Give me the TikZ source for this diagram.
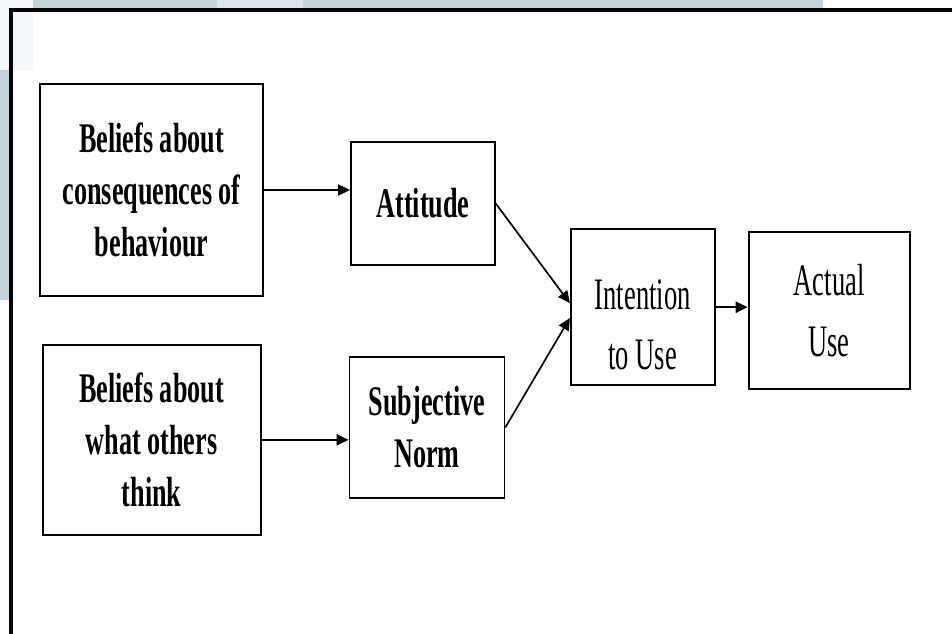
\documentclass[tikz,border=0pt]{standalone}
\usepackage{fontspec}
\setmainfont{Liberation Serif}
\newfontfamily\condfont[FakeStretch=0.62]{Liberation Serif}
\newfontfamily\thinfont[FakeStretch=0.59]{Liberation Serif}
\usetikzlibrary{positioning,arrows.meta,calc}

\definecolor{stripblue}{HTML}{C0D4DA}
\definecolor{stripfaint}{HTML}{DCE6EA}
\definecolor{stripwhite}{HTML}{F3F7F9}

\begin{document}
\begin{tikzpicture}[
        box/.style={draw, line width=1.3pt, align=center, inner sep=0pt},
        heavy/.style={box, font=\condfont\bfseries\fontsize{30}{37}\selectfont},
        light/.style={box, font=\thinfont\fontsize{32}{43}\selectfont},
        line/.style={-{Triangle[length=3mm,width=2.8mm]}, line width=1.2pt}
    ]
        \useasboundingbox (0,0) rectangle (23.8,-15.85);
        % screenshot strips behind the frame
        \fill[stripwhite] (0,0) rectangle (0.825,-1.75);
        \fill[stripblue] (0.825,0) rectangle (20.575,-0.225);
        \fill[stripfaint] (5.425,0) rectangle (7.575,-0.225);
        \fill[stripblue] (0,-1.75) rectangle (0.25,-7.5);
        \draw[line width=2.2pt] (0.275,-15.85) |- (23.8,-0.25);

        \node[heavy, minimum width=5.575cm, minimum height=5.3cm] (cons) at (3.79,-4.75) {Beliefs about\\consequences of\\behaviour};
        \node[heavy, minimum width=3.6cm, minimum height=3.075cm, right=2.15cm of cons, yshift=-3.4mm] (attitude) {Attitude};
        \node[heavy, minimum width=5.45cm, minimum height=4.75cm, below=1.175cm of cons] (others) {Beliefs about\\what others\\think};
        \node[heavy, minimum width=3.875cm, minimum height=3.525cm, right=2.175cm of others, yshift=3.1mm] (norm) {Subjective\\Norm};
        \node[light, minimum width=3.6cm, minimum height=3.9cm, right=1.85cm of attitude, yshift=-25.9mm] (intent) {\rule{0pt}{46pt}Intention\\to Use};
        \node[light, minimum width=4.025cm, minimum height=3.925cm, right=8mm of intent, yshift=-0.9mm] (actual) {Actual\\Use};

        \draw[line] (cons) -- (cons -| attitude.west);
        \draw[line] (others) -- (others -| norm.west);
        \draw[line] (attitude.east) -- ($(intent.west)+(0,0.1)$);
        \draw[line] (norm.east) -- ($(intent.west)+(0,-0.27)$);
        \draw[line] (intent) -- (intent -| actual.west);
    \end{tikzpicture}
\end{document}
